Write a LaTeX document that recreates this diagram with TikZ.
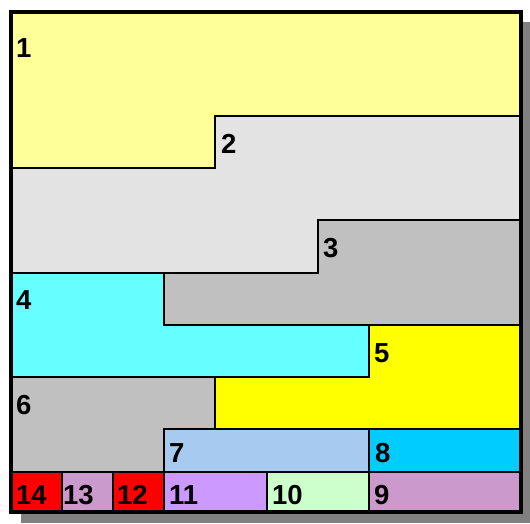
\documentclass[tikz,border=0pt]{standalone}
\usepackage{fontspec}
\setmainfont{Liberation Sans}
\definecolor{plotPaleYellow}{HTML}{FFFF99}
\definecolor{plotLightGray}{HTML}{E3E3E3}
\definecolor{plotGray}{HTML}{C0C0C0}
\definecolor{plotCyan}{HTML}{66FFFF}
\definecolor{plotYellow}{HTML}{FFFF00}
\definecolor{plotSkyBlue}{HTML}{A6CAF0}
\definecolor{plotDeepSky}{HTML}{00CCFF}
\definecolor{plotMauve}{HTML}{CC99CC}
\definecolor{plotMint}{HTML}{CCFFCC}
\definecolor{plotLilac}{HTML}{CC99FF}
\definecolor{plotRed}{HTML}{FF0000}
\definecolor{plotShadow}{HTML}{808080}
\begin{document}
\begin{tikzpicture}[x=1pt,y=-1pt,line join=miter]
\useasboundingbox (0,0) rectangle (530,523);
\path[fill=white] (0,0) rectangle (530,523);
\path[fill=plotShadow] (21,22) rectangle (530,523);
\tikzset{cell/.style={draw=black,line width=2pt},tag/.style={anchor=base west,inner sep=0pt,text=black,font=\bfseries\fontsize{27.5}{27.5}\selectfont}}
% stepped bands
\path[cell,fill=plotPaleYellow] (11,12) -- (521,12) -- (521,116) -- (215,116) -- (215,168) -- (11,168) -- cycle;
\path[cell,fill=plotLightGray] (215,116) -- (521,116) -- (521,220) -- (318,220) -- (318,273) -- (11,273) -- (11,168) -- (215,168) -- cycle;
\path[cell,fill=plotGray] (318,220) -- (521,220) -- (521,325) -- (164,325) -- (164,273) -- (318,273) -- cycle;
\path[cell,fill=plotCyan] (11,273) -- (164,273) -- (164,325) -- (369,325) -- (369,377) -- (11,377) -- cycle;
\path[cell,fill=plotYellow] (369,325) -- (521,325) -- (521,429) -- (215,429) -- (215,377) -- (369,377) -- cycle;
\path[cell,fill=plotGray] (11,377) -- (215,377) -- (215,429) -- (164,429) -- (164,472) -- (11,472) -- cycle;
% lower rows
\path[cell,fill=plotSkyBlue] (164,429) rectangle (369,472);
\path[cell,fill=plotDeepSky] (369,429) rectangle (521,472);
\path[cell,fill=plotMauve] (369,472) rectangle (521,512);
\path[cell,fill=plotMint] (267,472) rectangle (369,512);
\path[cell,fill=plotLilac] (164,472) rectangle (267,512);
\path[cell,fill=plotRed] (113,472) rectangle (164,512);
\path[cell,fill=plotMauve] (62,472) rectangle (113,512);
\path[cell,fill=plotRed] (11,472) rectangle (62,512);
\draw[draw=black,line width=3.5pt] (11,12) rectangle (521,512);
% labels
\node[tag] (n1) at (16,57) {1};
\node[tag] (n2) at (221,153) {2};
\node[tag] (n3) at (323,257) {3};
\node[tag] (n4) at (16,309) {4};
\node[tag] (n5) at (374,362) {5};
\node[tag] (n6) at (16,414) {6};
\node[tag] (n7) at (169,462) {7};
\node[tag] (n8) at (375,462) {8};
\node[tag] (n9) at (374,504) {9};
\node[tag] (n10) at (272,504) {10};
\node[tag] (n11) at (169,504) {11};
\node[tag] (n12) at (117,504) {12};
\node[tag] (n13) at (63,504) {13};
\node[tag] (n14) at (16,504) {14};
\end{tikzpicture}
\end{document}
